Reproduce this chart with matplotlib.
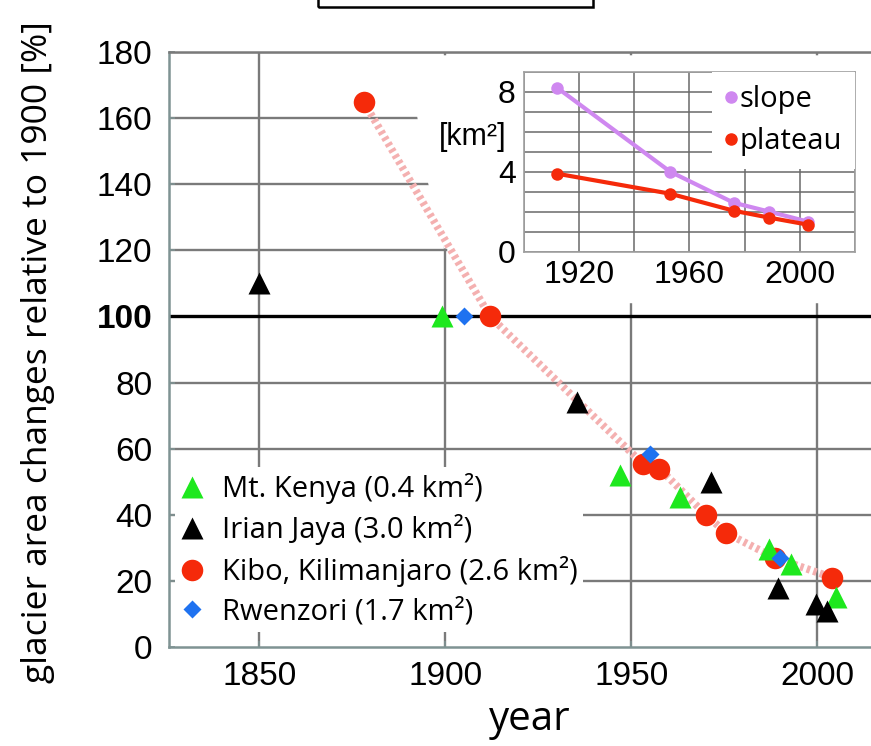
import matplotlib
matplotlib.use("Agg")
import matplotlib.pyplot as plt
from matplotlib.patches import Rectangle, Polygon
import numpy as np

# ---------------- data ----------------
kenya_year = [1899, 1947, 1963, 1987, 1993, 2005]
kenya_val = [100, 52, 45.5, 29.5, 25, 15]

irian_year = [1850, 1935.5, 1971.5, 1989.5, 1999.5, 2002.5]
irian_val = [110, 74, 50, 18, 13, 11]

kibo_year = [1878, 1912, 1953, 1957.5, 1970, 1975.5, 1988.5, 2004]
kibo_val = [165, 100, 55.5, 54, 40, 34.5, 27, 21]

rwenzori_year = [1905, 1955, 1990]
rwenzori_val = [100, 58.5, 27]

legend_labels = ["Mt. Kenya (0.4 km²)", "Irian Jaya (3.0 km²)",
                 "Kibo, Kilimanjaro (2.6 km²)", "Rwenzori (1.7 km²)"]

y_ticks = [0, 20, 40, 60, 80, 100, 120, 140, 160, 180]
x_ticks = [1850, 1900, 1950, 2000]

inset_year = [1912, 1953, 1976, 1989, 2003]
slope_area = [8.2, 4.0, 2.45, 2.0, 1.5]
plateau_area = [3.9, 2.9, 2.05, 1.7, 1.35]
inset_xticks = [1920, 1960, 2000]
inset_yticks = [0, 4, 8]

# ---------------- figure ----------------
W, H = 871, 746
fig = plt.figure(figsize=(W / 100, H / 100), dpi=100)

GRID = "#7a7a7a"
SPINE = "#7f9393"
GREEN = "#1ee81e"
RED = "#f52a0a"
BLUE = "#1f72f0"
VIOLET = "#cf88f0"
PINK = "#f4b0b0"
NUMFONT = ["Liberation Sans", "DejaVu Sans"]
TXTFONT = ["Open Sans", "DejaVu Sans"]

ax = fig.add_axes([169 / W, 1 - 647 / H, (W - 169) / W, (647 - 52) / H])
ax.set_xlim(1825.7, 2014.4)
ax.set_ylim(0, 180)

# grid
for yv in y_ticks[1:]:
    if yv == 100:
        continue
    ax.axhline(yv, color=GRID, lw=1.7, zorder=1)
ax.axhline(100, color="black", lw=2.4, zorder=1.7)
for xv in x_ticks:
    ax.axvline(xv, color=GRID, lw=1.7, zorder=1)

# white area behind the inset (covers grid)
poly = Polygon([(1892.4, 179), (1892.4, 160.6), (1895.3, 140.6), (1899.6, 120.6),
                (1900.5, 120.6), (1900.5, 104), (2016, 104), (2016, 179)],
               closed=True, facecolor="white", edgecolor="none", zorder=1.5)
ax.add_patch(poly)

for s in ["left", "bottom"]:
    ax.spines[s].set_color(SPINE)
    ax.spines[s].set_linewidth(1.8)
ax.spines["top"].set_color(GRID)
ax.spines["top"].set_linewidth(1.8)
ax.spines["right"].set_visible(False)

ax.set_yticks(y_ticks)
ax.set_xticks(x_ticks)
ax.tick_params(direction="in", length=4, width=1.2, color=SPINE,
               labelsize=24, pad=12)
ax.tick_params(axis="x", pad=10)
for lab in ax.get_yticklabels():
    lab.set_family(NUMFONT)
    if lab.get_text() == "100":
        lab.set_fontweight("bold")
for lab in ax.get_xticklabels():
    lab.set_family(NUMFONT)

fig.text(530 / W, 1 - 720 / H, "year", fontsize=29, family=TXTFONT,
         ha="center", va="center")
fig.text(38 / W, 1 - 352 / H, "glacier area changes relative to 1900 [%]",
         fontsize=25.5, family=TXTFONT, rotation=90, ha="center", va="center")

# pink dotted line through Kibo points
ax.plot(kibo_year, kibo_val, color=PINK, lw=5.5, ls=(0, (0.45, 0.45)), zorder=2)

h1, = ax.plot(kenya_year, kenya_val, ls="none", marker="^", ms=16, color=GREEN,
              mec="none", zorder=4)
h2, = ax.plot(irian_year, irian_val, ls="none", marker="^", ms=16, color="black",
              mec="none", zorder=4)
h3, = ax.plot(kibo_year, kibo_val, ls="none", marker="o", ms=15.5, color=RED,
              mec="none", zorder=3)
h4, = ax.plot(rwenzori_year, rwenzori_val, ls="none", marker="D", ms=9, color=BLUE,
              mec="none", zorder=5)

leg = ax.legend([h1, h2, h3, h4], legend_labels, loc="lower left",
                bbox_to_anchor=(0.0085, 0.025), frameon=True, framealpha=1,
                facecolor="white", edgecolor="none", fancybox=False,
                prop={"family": TXTFONT, "size": 21},
                handlelength=0.8, handletextpad=0.6, labelspacing=0.36,
                borderpad=0.2, borderaxespad=0)
leg.set_zorder(6)

# ---------------- inset ----------------
ix = fig.add_axes([524 / W, 1 - 251.7 / H, 331 / W, 180 / H])
ix.set_facecolor("white")
ix.set_zorder(7)
ix.set_xlim(1900, 2020)
ix.set_ylim(0, 9)
ix.set_xticks(np.arange(1900, 2021, 20), minor=True)
ix.set_yticks(np.arange(0, 10, 1), minor=True)
ix.set_xticks(inset_xticks)
ix.set_yticks(inset_yticks)
ix.grid(which="both", color="#6a6a6a", lw=1.1)
ix.tick_params(which="both", length=0, labelsize=23, pad=6)
for lab in ix.get_xticklabels() + ix.get_yticklabels():
    lab.set_family(NUMFONT)
for s in ix.spines.values():
    s.set_color("#a0a0a0")
    s.set_linewidth(1.2)
ix.set_axisbelow(True)

p1, = ix.plot(inset_year, slope_area, color=VIOLET, lw=3, marker="o", ms=9,
              mec="none", zorder=3)
p2, = ix.plot(inset_year, plateau_area, color=RED, lw=3, marker="o", ms=9,
              mec="none", zorder=4)
ileg = ix.legend([ix.plot([], [], ls="none", marker="o", ms=8, color=VIOLET)[0],
                  ix.plot([], [], ls="none", marker="o", ms=8, color=RED)[0]],
                 ["slope", "plateau"], loc="upper right",
                 bbox_to_anchor=(1.0, 1.0), frameon=True, framealpha=1,
                 facecolor="white", edgecolor="none", fancybox=False,
                 prop={"family": TXTFONT, "size": 21},
                 handlelength=0.4, handletextpad=0.1, labelspacing=0.45,
                 borderpad=0.45, borderaxespad=0)
ileg.set_zorder(8)
ix.text(-0.154, 0.637, "[km²]", transform=ix.transAxes, ha="center", va="center",
        fontsize=22, family=NUMFONT)

# empty title box at the top
fig.patches.append(Rectangle((318 / W, 1 - 7.3 / H), 275 / W, 0.03,
                             transform=fig.transFigure, fill=False,
                             edgecolor="black", lw=1.8, clip_on=False))

fig.savefig("out.png", dpi=100, facecolor="white")
